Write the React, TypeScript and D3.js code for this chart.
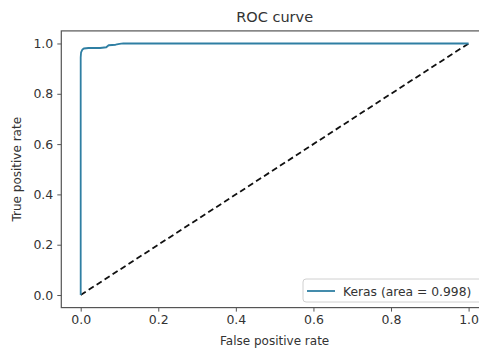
import React, { useRef, useEffect } from "react";
import * as d3 from "d3";

// ROC points
const fpr = [0, 0, 0.001, 0.004, 0.008, 0.02, 0.05, 0.066, 0.072, 0.09, 0.1, 0.11, 1.0];
const tpr = [0, 0.945, 0.965, 0.975, 0.98, 0.982, 0.982, 0.985, 0.993, 0.995, 0.998, 1.0, 1.0];
const diagonal = [0, 1];
const xTicks = [0, 0.2, 0.4, 0.6, 0.8, 1.0];
const yTicks = [0, 0.2, 0.4, 0.6, 0.8, 1.0];
const legendLabel = "Keras (area = 0.998)";

const W = 479;
const H = 348;

function RocChart() {
  const svgRef = useRef<SVGSVGElement>(null);

  useEffect(() => {
    const svg = d3.select(svgRef.current);
    svg.selectAll("*").remove();

    // axes box, matplotlib style with 5% margins
    const left = 61.3, right = 488, top = 30.9, bottom = 307.6;
    const x = d3.scaleLinear().domain([-0.05, 1.05]).range([left, right]);
    const y = d3.scaleLinear().domain([-0.05, 1.05]).range([bottom, top]);
    const font = "DejaVu Sans, sans-serif";
    const ink = "#333";

    svg.append("rect").attr("width", W).attr("height", H).attr("fill", "white");

    // diagonal
    svg
      .append("path")
      .datum(diagonal)
      .attr("d", d3.line<number>().x((d) => x(d)).y((d) => y(d)))
      .attr("fill", "none")
      .attr("stroke", "#111")
      .attr("stroke-width", 1.8)
      .attr("stroke-dasharray", "6,3.5");

    // roc curve
    const pts = fpr.map((f, i) => [f, tpr[i]] as [number, number]);
    svg
      .append("path")
      .datum(pts)
      .attr("d", d3.line().x((d) => x(d[0])).y((d) => y(d[1])))
      .attr("fill", "none")
      .attr("stroke", "#2f7fa3")
      .attr("stroke-width", 1.8)
      .attr("stroke-linejoin", "round");

    // frame
    svg
      .append("rect")
      .attr("x", left)
      .attr("y", top)
      .attr("width", right - left)
      .attr("height", bottom - top)
      .attr("fill", "none")
      .attr("stroke", "#555")
      .attr("stroke-width", 1.2);

    // x axis
    const xa = svg.append("g").attr("transform", `translate(0,${bottom})`).call(
      d3.axisBottom(x).tickValues(xTicks).tickFormat(d3.format(".1f")).tickSize(4).tickPadding(4)
    );
    xa.select(".domain").remove();
    xa.selectAll("line").attr("stroke", "#555");
    xa.selectAll("text").attr("font-family", font).attr("font-size", 12.5).attr("fill", ink);

    // y axis
    const ya = svg.append("g").attr("transform", `translate(${left},0)`).call(
      d3.axisLeft(y).tickValues(yTicks).tickFormat(d3.format(".1f")).tickSize(4).tickPadding(4)
    );
    ya.select(".domain").remove();
    ya.selectAll("line").attr("stroke", "#555");
    ya.selectAll("text").attr("font-family", font).attr("font-size", 12.5).attr("fill", ink);

    // labels
    svg
      .append("text")
      .attr("x", (left + right) / 2)
      .attr("y", 22)
      .attr("text-anchor", "middle")
      .attr("font-family", font)
      .attr("font-size", 14.5)
      .attr("fill", ink)
      .text("ROC curve");
    svg
      .append("text")
      .attr("x", (left + right) / 2)
      .attr("y", 345)
      .attr("text-anchor", "middle")
      .attr("font-family", font)
      .attr("font-size", 12)
      .attr("fill", ink)
      .text("False positive rate");
    svg
      .append("text")
      .attr("transform", `translate(21,${(top + bottom) / 2}) rotate(-90)`)
      .attr("text-anchor", "middle")
      .attr("font-family", font)
      .attr("font-size", 12)
      .attr("fill", ink)
      .text("True positive rate");

    // legend
    const lg = svg.append("g");
    lg.append("rect")
      .attr("x", 303)
      .attr("y", 279)
      .attr("width", 180)
      .attr("height", 23)
      .attr("rx", 3)
      .attr("fill", "white")
      .attr("stroke", "#d0d0d0");
    lg.append("line")
      .attr("x1", 307)
      .attr("x2", 335)
      .attr("y1", 291)
      .attr("y2", 291)
      .attr("stroke", "#2f7fa3")
      .attr("stroke-width", 1.8);
    lg.append("text")
      .attr("x", 343)
      .attr("y", 295.5)
      .attr("font-family", font)
      .attr("font-size", 12.3)
      .attr("fill", ink)
      .text(legendLabel);
  }, []);

  return <svg ref={svgRef} width={W} height={H} style={{ position: "absolute", left: 0, top: 0 }} />;
}

export default function App() {
  return <RocChart />;
}
